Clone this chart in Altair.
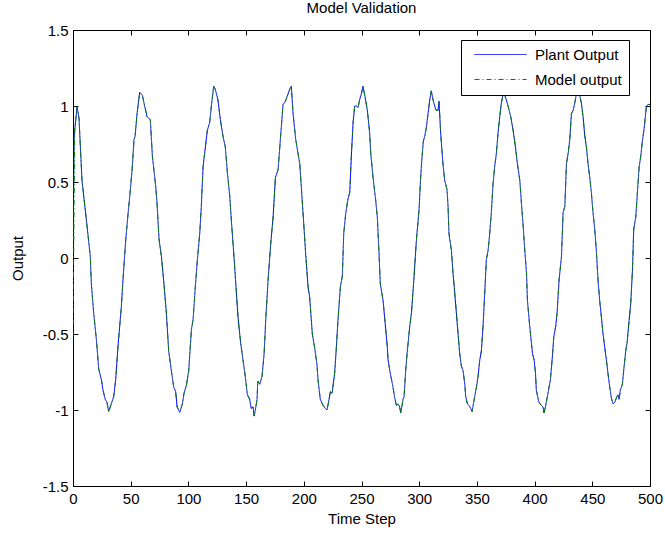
import altair as alt
import pandas as pd

# ---- data ----
steps = [0, 1, 3.5, 5.2, 7.8, 11.6, 15.0, 15.9, 17.9, 20.3, 22.3, 24.6, 26.0, 28.0, 29.5, 30.9,
         33.2, 35.3, 37.0, 39.0, 41.9, 43.3, 45.7, 47.7, 49.1, 51.2, 52.9, 53.8, 55.5, 57.8,
         60.1, 62.1, 64.2, 67.0, 68.8, 71.7, 72.8, 74.6, 76.6, 78.6, 80.9, 82.9, 85.2, 87.3,
         89.0, 90.2, 92.5, 94.8, 96.2, 98.2, 100.3, 102.6, 104.0, 106.0, 107.8, 109.8, 111.2,
         112.7, 114.1, 116.4, 118.4, 119.9, 121.9, 123.3, 125.6, 127.7, 130.0, 132.0, 133.8,
         135.8, 137.2, 139.5, 141.6, 143.0, 145.3, 147.3, 149.3, 151.1, 153.1, 154.5, 156.0,
         156.9, 158.0, 159.5, 160.1, 161.8, 163.8, 165.6, 167.0, 169.0, 171.4, 173.4, 175.4,
         177.7, 180.1, 182.0, 184.0, 186.4, 187.8, 189.2, 190.7, 193.0, 196.5, 197.9, 199.3,
         201.6, 203.7, 205.1, 207.4, 209.4, 211.4, 212.3, 214.3, 216.7, 218.7, 220.1, 221.9,
         223.0, 224.5, 226.7, 228.2, 229.6, 231.7, 233.4, 234.6, 236.3, 238.3, 239.8, 241.2,
         242.7, 244.1, 245.6, 247.0, 248.4, 249.9, 251.3, 253.1, 255.1, 257.1, 258.0, 260.0,
         262.3, 263.7, 265.2, 266.3, 268.7, 271.0, 272.4, 273.0, 275.0, 277.3, 278.8, 280.2,
         281.7, 283.1, 284.0, 286.0, 286.9, 288.3, 289.5, 291.8, 293.3, 295.3, 297.6, 299.9,
         301.1, 302.3, 303.6, 304.8, 306.2, 307.7, 309.1, 310.5, 312.0, 313.4, 314.9, 316.3,
         317.2, 318.6, 320.6, 322.1, 324.1, 325.0, 325.8, 327.9, 329.3, 330.8, 332.2, 333.7,
         335.1, 336.5, 338.0, 339.5, 340.3, 341.8, 343.2, 344.7, 345.8, 347.0, 348.1, 349.6,
         351.0, 352.5, 353.9, 355.3, 356.8, 358.2, 359.7, 361.1, 362.5, 364.0, 365.4, 366.9,
         368.3, 369.8, 371.2, 373.0, 374.7, 377.0, 379.3, 381.4, 383.4, 385.1, 387.2, 388.6,
         390.1, 391.5, 393.0, 393.8, 395.3, 396.7, 398.2, 399.6, 400.8, 401.5, 403.8, 405.9,
         407.3, 408.2, 409.6, 411.6, 413.7, 415.4, 416.6, 418.3, 419.5, 421.2, 423.3, 424.7,
         426.2, 427.6, 429.1, 430.5, 431.9, 433.4, 434.8, 437.0, 439.1, 440.5, 442.0, 443.4,
         444.9, 446.3, 447.8, 449.2, 450.6, 452.1, 453.5, 455.0, 456.4, 457.9, 459.3, 460.8,
         462.2, 463.6, 465.1, 466.5, 468.0, 469.4, 470.9, 472.3, 473.2, 474.3, 476.1, 477.2,
         479.0, 480.1, 481.9, 483.3, 484.8, 485.9, 487.7, 488.8, 490.6, 492.0, 493.4, 494.9,
         496.9, 498.4, 500]

plant_output = [0.0, 0.80, 0.995, 0.92, 0.51, 0.25, 0.01, -0.17, -0.36, -0.54, -0.73, -0.80, -0.87,
                -0.93, -0.95, -1.01, -0.96, -0.91, -0.80, -0.58, -0.32, -0.145, 0.12, 0.29, 0.40,
                0.58, 0.78, 0.80, 0.95, 1.09, 1.07, 1.00, 0.93, 0.91, 0.67, 0.47, 0.36, 0.12, 0.01,
                -0.15, -0.36, -0.61, -0.74, -0.85, -0.88, -0.98, -1.015, -0.96, -0.89, -0.84, -0.74,
                -0.47, -0.41, -0.19, -0.01, 0.16, 0.34, 0.60, 0.69, 0.84, 0.89, 1.00, 1.13, 1.11,
                1.04, 0.91, 0.80, 0.73, 0.56, 0.41, 0.25, 0.01, -0.23, -0.39, -0.56, -0.67, -0.78,
                -0.90, -0.93, -0.99, -0.98, -1.04, -1.00, -0.93, -0.81, -0.83, -0.78, -0.63, -0.41,
                -0.15, 0.10, 0.27, 0.53, 0.58, 0.82, 1.01, 1.03, 1.08, 1.11, 1.13, 0.95, 0.78, 0.62,
                0.46, 0.30, 0.03, -0.19, -0.26, -0.50, -0.59, -0.70, -0.80, -0.93, -0.97, -0.99,
                -1.00, -0.93, -0.88, -0.89, -0.76, -0.59, -0.41, -0.19, -0.12, 0.16, 0.29, 0.39,
                0.43, 0.67, 0.89, 1.00, 1.00, 0.99, 1.04, 1.08, 1.13, 1.06, 0.97, 0.82, 0.69, 0.53,
                0.38, 0.27, 0.03, -0.17, -0.28, -0.47, -0.59, -0.67, -0.76, -0.85, -0.92, -0.97,
                -0.96, -0.98, -1.02, -0.93, -0.91, -0.74, -0.63, -0.45, -0.36, -0.15, 0.12, 0.32,
                0.51, 0.65, 0.77, 0.80, 0.86, 0.95, 1.04, 1.10, 1.04, 1.00, 0.97, 0.97, 1.03, 0.82,
                0.62, 0.51, 0.45, 0.34, 0.16, 0.05, -0.10, -0.23, -0.36, -0.50, -0.63, -0.71, -0.74,
                -0.83, -0.91, -0.96, -0.97, -0.99, -1.01, -0.96, -0.91, -0.85, -0.78, -0.67, -0.61,
                -0.45, -0.23, -0.01, 0.05, 0.16, 0.30, 0.49, 0.60, 0.69, 0.82, 0.93, 1.02, 1.09,
                1.06, 1.00, 0.93, 0.84, 0.73, 0.62, 0.51, 0.36, 0.21, 0.05, -0.10, -0.28, -0.41,
                -0.52, -0.63, -0.67, -0.76, -0.87, -0.95, -0.97, -0.98, -1.02, -0.97, -0.89, -0.80,
                -0.65, -0.52, -0.45, -0.36, -0.145, 0.01, 0.30, 0.34, 0.62, 0.69, 0.78, 0.95, 0.97,
                1.02, 1.11, 1.07, 1.02, 0.93, 0.81, 0.73, 0.62, 0.53, 0.43, 0.30, 0.19, 0.05, -0.15,
                -0.28, -0.39, -0.50, -0.59, -0.67, -0.76, -0.85, -0.92, -0.96, -0.95, -0.92, -0.90,
                -0.93, -0.87, -0.83, -0.74, -0.61, -0.56, -0.41, -0.30, -0.08, 0.19, 0.27, 0.40,
                0.60, 0.67, 0.77, 0.85, 1.00, 1.01, 1.01]

# model output starts from a different initial value, then tracks the plant
model_start_steps = [0, 1.5]
model_start_values = [-0.52, 0.85]
model_steps = model_start_steps + steps[2:]
model_output = model_start_values + plant_output[2:]

x_ticks = [0, 50, 100, 150, 200, 250, 300, 350, 400, 450, 500]
y_ticks = [-1.5, -1, -0.5, 0, 0.5, 1, 1.5]
series_names = ["Plant Output", "Model output"]
series_colors = ["#0000ff", "#008000"]

plant_df = pd.DataFrame({"step": steps, "value": plant_output, "series": series_names[0]})
model_df = pd.DataFrame({"step": model_steps, "value": model_output, "series": series_names[1]})

FONT = "Liberation Sans"

color_scale = alt.Scale(domain=series_names, range=series_colors)
dash_scale = alt.Scale(domain=series_names, range=[[1, 0], [5, 3, 1, 3]])

legend = alt.Legend(
    title=None, orient="none", legendX=388, legendY=10,
    fillColor="white", strokeColor="black", padding=7,
    symbolType="M-0.2,0H10.2", symbolSize=100, symbolStrokeWidth=1,
    symbolFillColor="transparent",
    labelFont=FONT, labelFontSize=15, labelColor="black", labelOffset=52,
    rowPadding=9,
)

x_main = alt.X("step:Q", scale=alt.Scale(domain=[0, 500], nice=False),
               axis=alt.Axis(values=x_ticks, title="Time Step", orient="bottom", offset=-5,
                             tickSize=5, domain=False, grid=False, labelPadding=5,
                             labelFlush=False, titlePadding=5,
                             labelExpr="'' + datum.value"))
y_main = alt.Y("value:Q", scale=alt.Scale(domain=[-1.5, 1.5], nice=False),
               axis=alt.Axis(values=y_ticks, title="Output", orient="left", offset=-5,
                             tickSize=5, domain=False, grid=False, labelPadding=5,
                             labelFlush=False, titlePadding=17,
                             labelExpr="'' + datum.value"))

x_top = alt.X("step:Q", scale=alt.Scale(domain=[0, 500], nice=False),
              axis=alt.Axis(values=x_ticks, title=None, orient="top", offset=-5, tickSize=5,
                            domain=False, grid=False, labels=False))
y_right = alt.Y("value:Q", scale=alt.Scale(domain=[-1.5, 1.5], nice=False),
                axis=alt.Axis(values=y_ticks, title=None, orient="right", offset=-5, tickSize=5,
                              domain=False, grid=False, labels=False))

plant = alt.Chart(plant_df).mark_line(strokeWidth=1, clip=True).encode(
    x=x_main, y=y_main,
    color=alt.Color("series:N", scale=color_scale, legend=legend),
    strokeDash=alt.StrokeDash("series:N", scale=dash_scale, legend=legend),
)
model = alt.Chart(model_df).mark_line(strokeWidth=1, clip=True).encode(
    x=x_top, y=y_right,
    color=alt.Color("series:N", scale=color_scale, legend=legend),
    strokeDash=alt.StrokeDash("series:N", scale=dash_scale, legend=legend),
)

chart = alt.layer(plant, model).resolve_axis(x="independent", y="independent").properties(
    width=577, height=456,
    background="white",
    autosize=alt.AutoSizeParams(type="none"),
    padding={"left": 73, "top": 30, "right": 15, "bottom": 51},
    title=alt.Title("Model Validation", font=FONT, fontSize=15, fontWeight="normal",
                    color="black", anchor="middle", offset=7),
).configure_view(stroke="black", strokeWidth=1).configure_axis(
    labelFont=FONT, labelFontSize=15, labelColor="black", titleFont=FONT, titleFontSize=15,
    titleFontWeight="normal", titleColor="black", tickColor="black", tickWidth=1,
)

chart.save("out.html", embed_options={"renderer": "svg", "actions": False})
